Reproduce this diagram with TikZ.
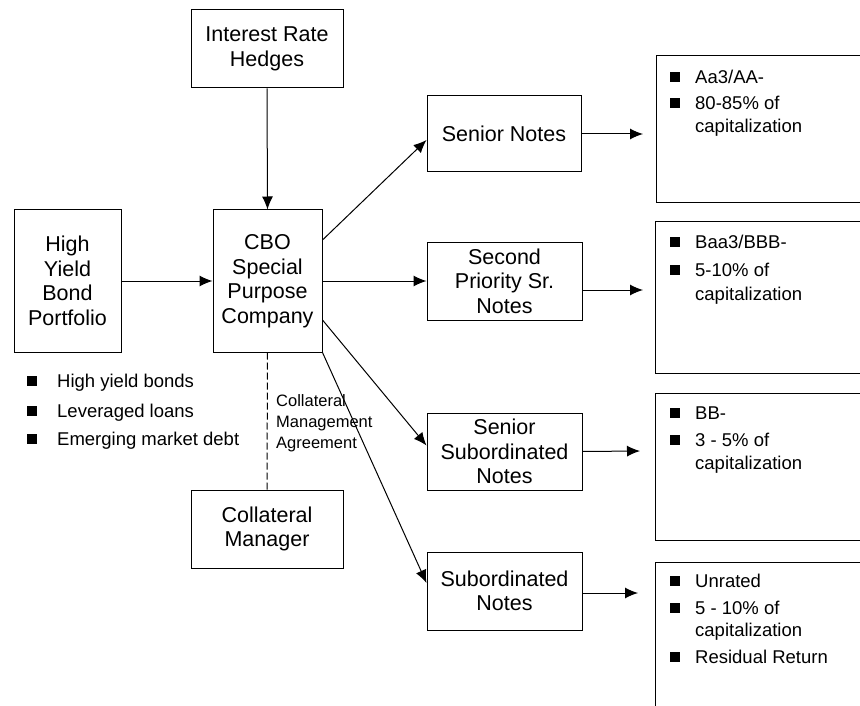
\documentclass[tikz,border=0pt]{standalone}
\usepackage{fontspec}
\setmainfont{Liberation Sans}
\usetikzlibrary{arrows.meta,calc}
\begin{document}
\begin{tikzpicture}[x=1pt,y=-1pt,
 box/.style={draw, line width=1pt, inner sep=0pt, align=center, font=\fontsize{21.5}{24.5}\selectfont},
 rbox/.style={draw, line width=1pt, inner sep=0pt, anchor=north west},
 arr/.style={line width=1pt, -{Latex[length=13pt,width=11pt]}},
 btxt/.style={anchor=base west, inner sep=0pt, font=\fontsize{18.5}{23}\selectfont},
 smalltxt/.style={anchor=base west, inner sep=0pt, font=\fontsize{16.5}{20}\selectfont},
 sq/.style={fill, minimum size=10pt, inner sep=0pt}]
\useasboundingbox (0,0) rectangle (860,706);
\clip (0,0) rectangle (860,706);

% main boxes
\node[box, minimum width=152pt, minimum height=78pt] (hedge) at (267,49) {Interest Rate\\Hedges};
\node[box, minimum width=107pt, minimum height=142pt] (hybp) at (67.5,281) {High\\Yield\\Bond\\Portfolio};
\node[box, minimum width=109pt, minimum height=142pt] (cbo) at (267.5,281) {CBO\\Special\\Purpose\\Company};
\node[box, minimum width=152pt, minimum height=78pt] (colm) at (267,529) {Collateral\\Manager};
\node[box, minimum width=154pt, minimum height=76pt] (sn) at (504,134) {Senior Notes};
\node[box, minimum width=155pt, minimum height=78pt] (sp) at (504.5,281) {Second\\Priority Sr.\\Notes};
\node[box, minimum width=155pt, minimum height=77pt] (ss) at (504.5,451.5) {Senior\\Subordinated\\Notes};
\node[box, minimum width=155pt, minimum height=78pt] (sub) at (504.5,591) {Subordinated\\Notes};

% right boxes
\node[rbox, minimum width=260pt, minimum height=147pt] (r1) at (656,55) {};
\node[rbox, minimum width=260pt, minimum height=152pt] (r2) at (655,221) {};
\node[rbox, minimum width=260pt, minimum height=147pt] (r3) at (655,393) {};
\node[rbox, minimum width=260pt, minimum height=170pt] (r4) at (655,562) {};

% connectors
\draw[arr] (hedge.south) -- (cbo.north);
\draw[arr] (hybp.east) -- (cbo.west);
\draw[arr] ([yshift=41pt]cbo.east) -- ([yshift=-6pt]sn.west);
\draw[arr] (cbo.east) -- (sp.west);
\draw[arr] ([yshift=-39pt]cbo.east) -- ([yshift=6pt]ss.west);
\draw[arr] (cbo.south east) -- ([yshift=8pt]sub.west);
\draw[line width=1pt, dash pattern=on 7pt off 3pt] (cbo.south) -- (colm.north);

\coordinate (e1) at (643,134);
\coordinate (e2) at (643,290);
\coordinate (e3) at (640,451);
\coordinate (e4) at (638,593);
\draw[arr] (sn.east) -- (e1);
\draw[arr] ([yshift=-9pt]sp.east) -- (e2);
\draw[arr] (ss.east) -- (e3);
\draw[arr] ([yshift=-2pt]sub.east) -- (e4);

% agreement label
\node[smalltxt] (ag1) at (276,406) {Collateral};
\node[smalltxt] (ag2) at (276,427) {Management};
\node[smalltxt] (ag3) at (276,448) {Agreement};

% left bullets
\node[sq] (lb1) at (32,381) {};
\node[btxt] (lt1) at (57,387.5) {High yield bonds};
\node[sq] (lb2) at (32,411) {};
\node[btxt] (lt2) at (57,417.5) {Leveraged loans};
\node[sq] (lb3) at (32,439) {};
\node[btxt] (lt3) at (57,445.5) {Emerging market debt};

% right box 1
\node[sq] (a1) at (675,77) {};
\node[btxt] (a1t) at (695,83.5) {Aa3/AA-};
\node[sq] (a2) at (675,103) {};
\node[btxt] (a2t) at (695,109.5) {80-85\% of};
\node[btxt] (a2u) at (695,132.5) {capitalization};

% right box 2
\node[sq] (b1) at (675,242) {};
\node[btxt] (b1t) at (695,248.5) {Baa3/BBB-};
\node[sq] (b2) at (675,270) {};
\node[btxt] (b2t) at (695,276.5) {5-10\% of};
\node[btxt] (b2u) at (695,300.5) {capitalization};

% right box 3
\node[sq] (c1) at (675,413) {};
\node[btxt] (c1t) at (695,419.5) {BB-};
\node[sq] (c2) at (675,440) {};
\node[btxt] (c2t) at (695,446.5) {3 - 5\% of};
\node[btxt] (c2u) at (695,469.5) {capitalization};

% right box 4
\node[sq] (d1) at (675,581) {};
\node[btxt] (d1t) at (695,587.5) {Unrated};
\node[sq] (d2) at (675,608) {};
\node[btxt] (d2t) at (695,614.5) {5 - 10\% of};
\node[btxt] (d2u) at (695,636.5) {capitalization};
\node[sq] (d3) at (675,657) {};
\node[btxt] (d3t) at (695,663.5) {Residual Return};
\end{tikzpicture}
\end{document}
